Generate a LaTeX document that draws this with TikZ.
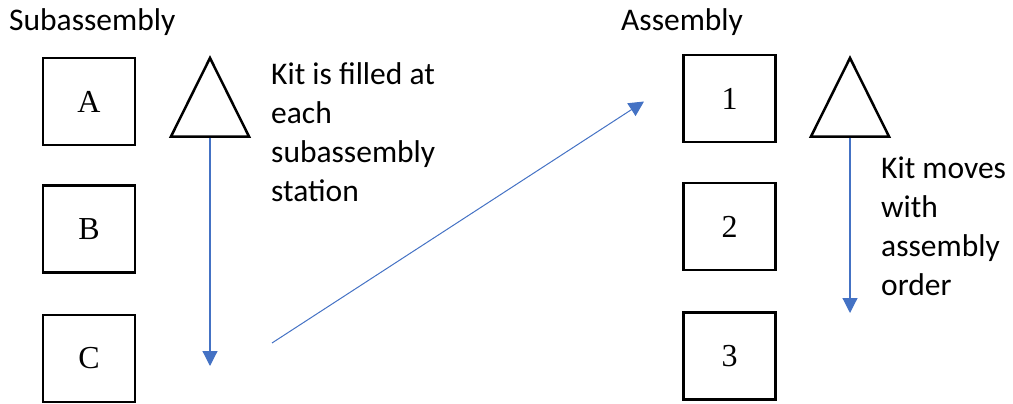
\documentclass[tikz,border=0pt]{standalone}
\usepackage{fontspec}
\setmainfont{Liberation Serif}
\newfontfamily\labelfont{Carlito}
\usetikzlibrary{arrows.meta}
\definecolor{flowblue}{HTML}{4472C4}
\tikzset{
  station/.style={draw=black, line width=2.5pt, minimum width=92pt, minimum height=87pt,
    inner sep=0pt, font=\fontsize{32}{32}\selectfont},
  kit/.style={draw=black, line width=2.5pt, line join=miter},
  caption/.style={inner sep=0pt, align=left, font=\labelfont\fontsize{31.5}{39}\selectfont},
  flow/.style={draw=flowblue, line width=1.2pt, -{Triangle[length=15pt,width=15pt]}},
}
\begin{document}
\begin{tikzpicture}[x=1pt, y=-1pt]
  \useasboundingbox (0,0) rectangle (1013,404);

  % headings
  \node[caption, anchor=base west] (hsub) at (9,31) {Subassembly};
  \node[caption, anchor=base west] (hasm) at (621,31) {Assembly};

  % subassembly stations
  \node[station] (A) at (89,101.5) {A};
  \node[station] (B) at (89,229) {B};
  \node[station] (C) at (89,358.5) {C};

  % assembly stations
  \node[station] (s1) at (729.5,98.5) {1};
  \node[station] (s2) at (729.5,226.5) {2};
  \node[station] (s3) at (729.5,356) {3};

  % kit triangles
  \coordinate (kitLtop) at (210,58);
  \coordinate (kitLl) at (171,136.5);
  \coordinate (kitLr) at (249,136.5);
  \coordinate (kitLb) at (210,137.5);
  \draw[kit] (kitLtop) -- (kitLr) -- (kitLl) -- cycle;

  \coordinate (kitRtop) at (850,58);
  \coordinate (kitRl) at (811,136.5);
  \coordinate (kitRr) at (889,136.5);
  \coordinate (kitRb) at (850,137.5);
  \draw[kit] (kitRtop) -- (kitRr) -- (kitRl) -- cycle;

  % flow ends
  \coordinate (kitLend) at (210,366);
  \coordinate (kitRend) at (850,313);
  \coordinate (moveStart) at (272,343);
  \coordinate (moveEnd) at (644,101.5);

  \draw[flow] (kitLb) -- (kitLend);
  \draw[flow] (kitRb) -- (kitRend);
  \draw[flow, line width=1pt] (moveStart) -- (moveEnd);

  % notes (base anchor sits on the last line)
  \node[caption, anchor=base west] (noteL) at (271,201.5)
    {Kit is filled at\\each\\subassembly\\station};
  \node[caption, anchor=base west] (noteR) at (881,295.5)
    {Kit moves\\with\\assembly\\order};
\end{tikzpicture}
\end{document}
